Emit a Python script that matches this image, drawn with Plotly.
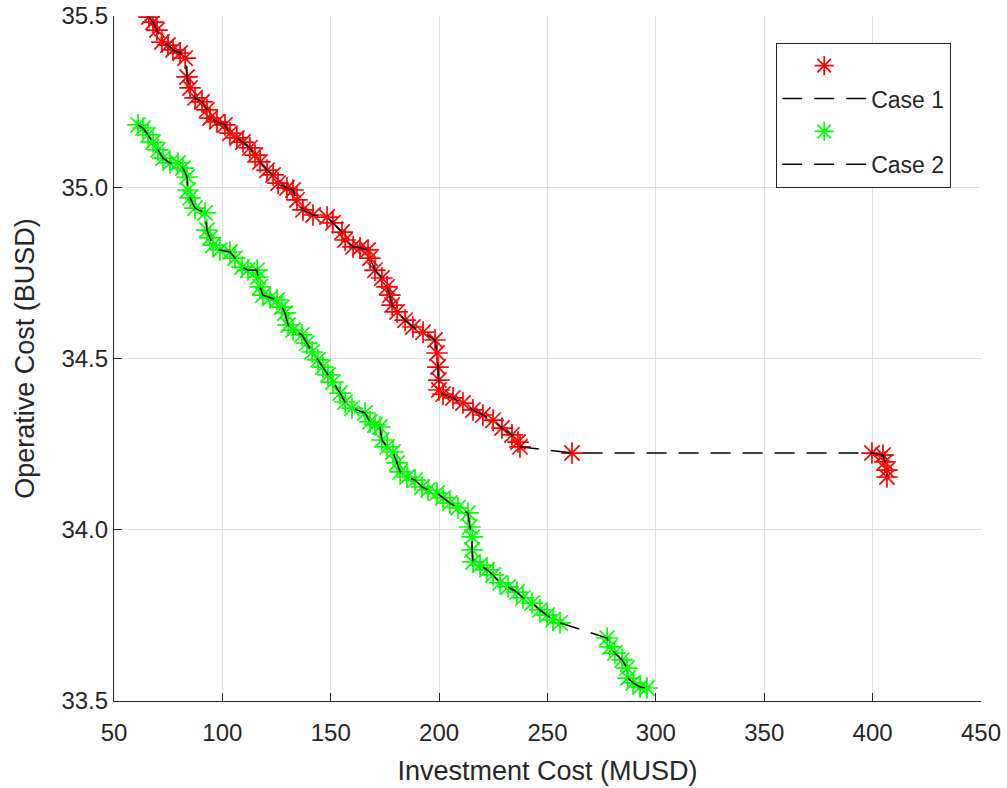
import plotly.graph_objects as go

# Case 1 (red) : investment cost (MUSD) vs operative cost (BUSD)
case1_x = [66.1, 68.0, 69.8, 72.1, 74.9, 77.2, 80.5, 82.8, 83.7, 85.1, 87.4, 90.6, 92.9, 94.3,
           97.5, 101.2, 103.5, 106.7, 109.5, 112.7, 115.1, 117.4, 120.6, 123.4, 125.7, 129.8,
           132.6, 134.4, 137.2, 141.8, 148.3, 151.0, 155.2, 156.6, 160.3, 163.5, 167.2, 168.1,
           170.4, 173.6, 176.0, 177.3, 178.3, 180.6, 184.3, 187.9, 192.6, 198.1, 199.0, 199.5,
           199.9, 199.9, 201.8, 206.4, 211.0, 215.6, 220.2, 224.9, 229.0, 233.6, 236.4, 237.3,
           261.3, 399.7, 404.8, 405.7, 406.6, 406.6]
case1_y = [35.497, 35.482, 35.459, 35.424, 35.415, 35.401, 35.392, 35.377, 35.322, 35.290, 35.261,
           35.249, 35.226, 35.202, 35.191, 35.182, 35.158, 35.144, 35.132, 35.115, 35.094, 35.074,
           35.050, 35.036, 35.012, 34.998, 34.992, 34.963, 34.934, 34.919, 34.913, 34.896, 34.869,
           34.846, 34.826, 34.823, 34.817, 34.793, 34.758, 34.735, 34.709, 34.685, 34.656, 34.636,
           34.612, 34.592, 34.577, 34.554, 34.516, 34.475, 34.437, 34.408, 34.396, 34.385, 34.370,
           34.350, 34.335, 34.320, 34.297, 34.277, 34.256, 34.242, 34.224, 34.224, 34.218, 34.198,
           34.174, 34.154]

# Case 2 (green)
case2_x = [61.1, 63.4, 65.7, 68.0, 70.3, 72.6, 75.8, 79.5, 81.8, 83.7, 84.1, 85.1, 87.4, 92.0,
           92.9, 94.3, 95.7, 98.9, 103.5, 105.8, 109.1, 111.8, 116.0, 116.4, 117.4, 118.7, 122.0,
           125.2, 127.5, 128.9, 130.3, 132.6, 136.7, 139.0, 141.4, 144.1, 146.4, 148.7, 151.0,
           154.3, 156.6, 159.8, 165.8, 168.1, 170.4, 172.7, 173.6, 176.0, 178.7, 180.6, 182.0,
           185.2, 188.9, 192.1, 194.9, 199.0, 201.8, 205.0, 208.7, 213.3, 214.2, 215.2, 215.2,
           215.6, 218.9, 222.1, 224.9, 228.1, 231.8, 235.9, 238.7, 242.9, 246.5, 249.8, 252.5,
           255.8, 277.5, 278.8, 281.1, 284.4, 286.7, 287.1, 289.5, 292.7, 295.9]
case2_y = [35.182, 35.173, 35.153, 35.132, 35.109, 35.085, 35.071, 35.071, 35.056, 35.030, 34.992,
           34.969, 34.939, 34.925, 34.875, 34.852, 34.831, 34.817, 34.811, 34.793, 34.767, 34.758,
           34.758, 34.738, 34.709, 34.685, 34.677, 34.671, 34.650, 34.633, 34.598, 34.583, 34.569,
           34.545, 34.519, 34.496, 34.475, 34.452, 34.431, 34.399, 34.373, 34.355, 34.341, 34.315,
           34.306, 34.300, 34.262, 34.242, 34.227, 34.195, 34.169, 34.154, 34.145, 34.125, 34.116,
           34.107, 34.093, 34.078, 34.064, 34.049, 34.008, 33.979, 33.941, 33.906, 33.897, 33.883,
           33.868, 33.845, 33.833, 33.818, 33.801, 33.786, 33.766, 33.751, 33.737, 33.728, 33.684,
           33.658, 33.640, 33.620, 33.596, 33.567, 33.553, 33.541, 33.538]

x_ticks = [50, 100, 150, 200, 250, 300, 350, 400, 450]
y_ticks = [33.5, 34.0, 34.5, 35.0, 35.5]
y_tick_labels = ["33.5", "34.0", "34.5", "35.0", "35.5"]

FONT = "Liberation Sans, Arial, Helvetica, sans-serif"
AX = "#262626"

fig = go.Figure()
marker_style = dict(symbol="asterisk-open", size=18)
line_style = dict(color="black", width=1.5, dash="20px,12px")

fig.add_trace(go.Scatter(x=case1_x, y=case1_y, mode="markers", name="",
                         marker=dict(**marker_style, color="#ff0000", line=dict(color="#ff0000", width=1.7)),
                         legendgroup="a"))
fig.add_trace(go.Scatter(x=case1_x, y=case1_y, mode="lines", name="Case 1",
                         line=line_style, legendgroup="b"))
fig.add_trace(go.Scatter(x=case2_x, y=case2_y, mode="markers", name="",
                         marker=dict(**marker_style, color="#00ff00", line=dict(color="#00ff00", width=1.7)),
                         legendgroup="c"))
fig.add_trace(go.Scatter(x=case2_x, y=case2_y, mode="lines", name="Case 2",
                         line=line_style, legendgroup="d"))

axis_common = dict(
    showgrid=True, gridcolor="#dfdfdf", gridwidth=1,
    showline=True, linecolor=AX, linewidth=1.2,
    ticks="inside", ticklen=8, tickcolor=AX, tickwidth=1.2,
    zeroline=False, mirror=False, automargin=False,
    tickfont=dict(family=FONT, size=24, color=AX),
)

fig.update_layout(
    width=1007, height=788,
    margin=dict(l=114, r=26, t=16, b=87),
    paper_bgcolor="white", plot_bgcolor="white",
    font=dict(family=FONT, color=AX),
    showlegend=True,
    legend=dict(
        x=(776 - 114) / 867, y=(701 - 43) / 685, xanchor="left", yanchor="top",
        bgcolor="white", bordercolor="#262626", borderwidth=1.2,
        font=dict(family=FONT, size=23, color=AX),
        traceorder="grouped", tracegroupgap=0, itemwidth=84,
    ),
    xaxis=dict(**axis_common, range=[50, 450], tickvals=x_ticks, ticklabelstandoff=10,
               title=dict(text="Investment Cost (MUSD)", font=dict(family=FONT, size=27, color=AX), standoff=16)),
    yaxis=dict(**axis_common, range=[33.5, 35.5], tickvals=y_ticks, ticktext=y_tick_labels,
               title=dict(text="Operative Cost (BUSD)", font=dict(family=FONT, size=27, color=AX), standoff=18)),
)

fig.write_html("out.html")
